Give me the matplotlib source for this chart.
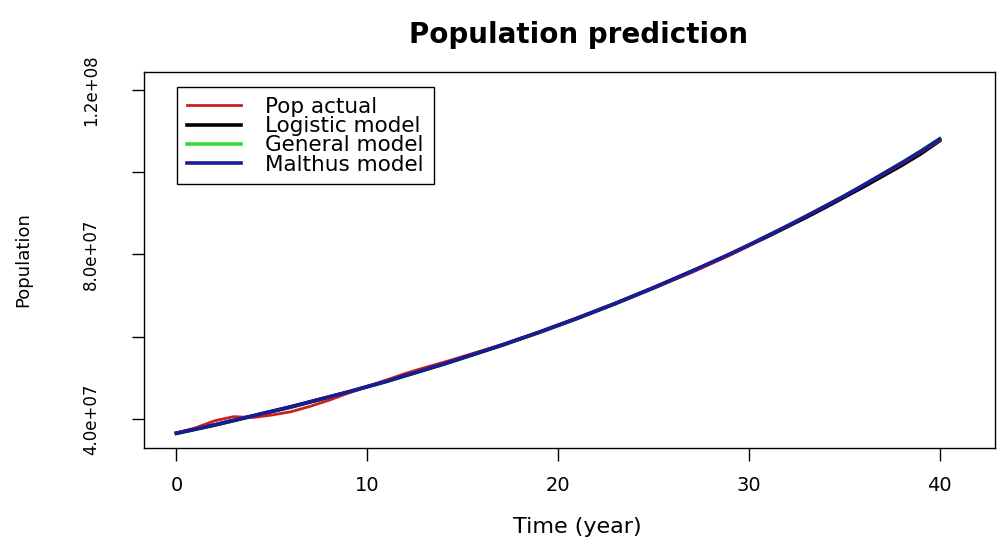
import matplotlib
matplotlib.use("Agg")
import matplotlib.pyplot as plt
from matplotlib.ticker import FixedLocator, FixedFormatter

## data (millions)
years = list(range(0, 41))
popActual = [36.6, 37.9, 39.6, 40.6, 40.4, 41.0, 41.8, 43.1, 44.6, 46.3,
             47.9, 49.5, 51.1, 52.5, 53.8, 55.2, 56.6, 58.0, 59.5, 61.1,
             62.8, 64.5, 66.3, 68.1, 70.0, 71.8, 73.7, 75.6, 77.7, 79.8,
             82.1, 84.5, 86.9, 89.3, 91.8, 94.2, 96.8, 99.3, 102.0, 104.8,
             107.7]
logisticModel = [36.6, 37.6, 38.6, 39.7, 40.8, 41.9, 43.0, 44.2, 45.4, 46.6,
                 47.9, 49.2, 50.6, 52.0, 53.4, 54.9, 56.4, 57.9, 59.5, 61.1,
                 62.8, 64.5, 66.3, 68.1, 70.0, 71.9, 73.9, 75.9, 77.9, 80.0,
                 82.2, 84.4, 86.7, 89.0, 91.4, 93.9, 96.4, 99.0, 101.6, 104.4,
                 107.6]
generalModel = [36.5, 37.5, 38.5, 39.6, 40.7, 41.8, 42.9, 44.1, 45.3, 46.5,
                47.8, 49.1, 50.5, 51.9, 53.3, 54.8, 56.3, 57.8, 59.4, 61.0,
                62.7, 64.4, 66.2, 68.0, 69.9, 71.8, 73.8, 75.8, 77.9, 80.0,
                82.2, 84.5, 86.8, 89.2, 91.7, 94.2, 96.8, 99.5, 102.2, 105.1,
                108.1]
malthusModel = [36.6, 37.6, 38.6, 39.7, 40.8, 41.9, 43.0, 44.2, 45.4, 46.6,
                47.9, 49.2, 50.6, 52.0, 53.4, 54.9, 56.4, 57.9, 59.5, 61.1,
                62.8, 64.5, 66.3, 68.1, 70.0, 71.9, 73.9, 75.9, 78.0, 80.1,
                82.3, 84.6, 86.9, 89.3, 91.7, 94.2, 96.8, 99.5, 102.2, 105.0,
                108.0]
yTicks = [40e6, 60e6, 80e6, 100e6, 120e6]
yTickLabels = ["4.0e+07", "", "8.0e+07", "", "1.2e+08"]
xTicks = [0, 10, 20, 30, 40]

plt.rcParams['font.family'] = ['DejaVu Sans']

fig = plt.figure(figsize=(9.97, 5.40), dpi=100)
ax = fig.add_axes([0.1444, 0.1704, 0.8536, 0.6963])

toPeople = lambda v: [x * 1e6 for x in v]
ax.plot(years, toPeople(generalModel), color="#33dd33", lw=2.6, label="General model", zorder=2)
ax.plot(years, toPeople(logisticModel), color="black", lw=2.6, label="Logistic model", zorder=3)
ax.plot(years, toPeople(malthusModel), color="#1a1a9a", lw=2.6, label="Malthus model", zorder=4)
ax.plot(years, toPeople(popActual), color="#cc2020", lw=2.0, label="Pop actual", zorder=3.5)

ax.set_xlim(-1.7, 42.9)
ax.set_ylim(33.0e6, 124.3e6)
ax.xaxis.set_major_locator(FixedLocator(xTicks))
ax.yaxis.set_major_locator(FixedLocator(yTicks))
ax.yaxis.set_major_formatter(FixedFormatter(yTickLabels))
ax.tick_params(axis='both', direction='out', length=9, width=1)
ax.tick_params(axis='x', labelsize=14, pad=11)
ax.tick_params(axis='y', labelsize=12, pad=29)
for lbl in ax.get_yticklabels():
    lbl.set_rotation(90)
    lbl.set_va('center')
    lbl.set_ha('center')
for sp in ax.spines.values():
    sp.set_linewidth(1)

ax.set_title("Population prediction", fontsize=20, fontweight='bold', pad=21, x=0.511)
ax.set_xlabel("Time (year)", fontsize=16, labelpad=16, x=0.509)
ax.set_ylabel("Population", fontsize=13, labelpad=36)

h, l = ax.get_legend_handles_labels()
order = [l.index(n) for n in ["Pop actual", "Logistic model", "General model", "Malthus model"]]
leg = ax.legend([h[i] for i in order], [l[i] for i in order], loc='upper left',
                bbox_to_anchor=(0.039, 0.96), borderaxespad=0, fancybox=False,
                edgecolor='black', framealpha=1, fontsize=15.5, labelspacing=-0.03,
                handlelength=2.5, handletextpad=1.15, borderpad=0.45)
leg.get_frame().set_linewidth(1)

fig.savefig("out.png", dpi=100)
